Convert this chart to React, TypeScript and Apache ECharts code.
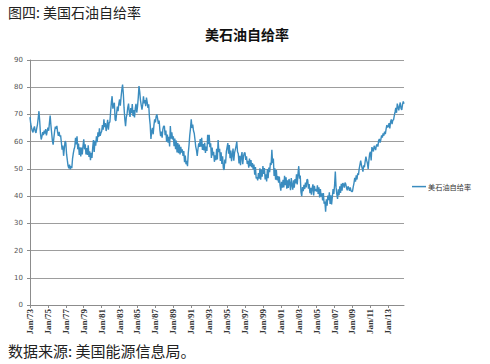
import React, { useEffect, useRef } from "react";
import * as echarts from "echarts";

const headerText = "图四: 美国石油自给率";
const chartTitle = "美石油自给率";
const seriesName = "美石油自给率";
const footerText = "数据来源: 美国能源信息局。";

const startYear = 1973;
const monthNames = ["Jan", "Feb", "Mar", "Apr", "May", "Jun", "Jul", "Aug", "Sep", "Oct", "Nov", "Dec"];

const yTicks = [0, 10, 20, 30, 40, 50, 60, 70, 80, 90];

// monthly self-sufficiency ratio (%), Jan 1973 – Oct 2014, one row per year
const ratio: number[] = [
  69.0, 66.5, 65.2, 64.0, 63.4, 64.8, 65.6, 63.8, 63.2, 64.9, 66.3, 68.7, // 1973
  71.2, 67.5, 63.0, 60.8, 61.9, 63.5, 62.4, 64.1, 63.0, 64.6, 62.3, 63.8, // 1974
  65.2, 64.0, 66.8, 69.6, 66.1, 63.2, 60.4, 58.9, 61.5, 63.9, 65.5, 64.7, // 1975
  65.8, 63.4, 62.1, 63.6, 61.9, 62.3, 59.8, 57.1, 58.6, 54.8, 57.5, 60.2, // 1976
  59.6, 55.4, 53.2, 51.1, 50.2, 51.6, 49.8, 51.0, 50.3, 53.8, 55.7, 57.2, // 1977
  58.1, 61.4, 59.0, 62.0, 57.2, 59.3, 55.1, 57.9, 54.6, 57.8, 55.3, 58.4, // 1978
  60.9, 57.2, 59.0, 55.3, 57.6, 55.1, 58.7, 54.4, 56.5, 53.2, 55.9, 54.0, // 1979
  57.8, 60.6, 56.2, 60.3, 58.5, 62.0, 59.8, 63.4, 61.7, 64.9, 62.1, 63.2, // 1980
  63.8, 66.1, 64.4, 68.2, 65.3, 66.8, 63.9, 65.7, 68.0, 64.4, 66.9, 67.2, // 1981
  71.0, 74.5, 76.7, 72.1, 73.6, 74.3, 68.2, 67.6, 70.4, 72.9, 71.2, 74.0, // 1982
  75.5, 73.2, 76.4, 79.0, 81.0, 77.8, 72.4, 68.3, 65.7, 68.9, 70.2, 72.6, // 1983
  74.0, 70.8, 69.1, 72.3, 70.5, 73.8, 69.4, 71.6, 68.9, 72.2, 73.9, 70.7, // 1984
  72.8, 76.1, 80.4, 78.3, 75.2, 73.4, 71.8, 73.6, 76.7, 74.1, 75.3, 73.0, // 1985
  76.2, 74.5, 72.4, 73.7, 68.9, 66.2, 61.0, 63.8, 65.1, 62.7, 66.0, 68.2, // 1986
  67.1, 69.3, 70.0, 68.4, 66.5, 67.8, 64.2, 62.0, 63.7, 61.5, 64.6, 65.7, // 1987
  65.7, 62.4, 64.1, 60.0, 62.6, 59.6, 61.8, 58.2, 65.7, 61.1, 63.4, 60.8, // 1988
  62.0, 58.3, 61.1, 57.2, 60.4, 56.0, 59.5, 55.8, 58.9, 55.3, 58.1, 56.0, // 1989
  57.2, 54.8, 56.6, 52.5, 54.9, 51.7, 53.0, 51.0, 55.8, 58.6, 62.3, 64.9, // 1990
  68.2, 65.0, 66.3, 64.0, 63.1, 60.8, 58.2, 56.9, 54.8, 57.3, 59.4, 58.1, // 1991
  61.0, 58.2, 61.4, 57.0, 59.1, 56.8, 59.6, 55.9, 58.2, 56.6, 62.5, 59.1, // 1992
  62.5, 58.0, 59.4, 54.0, 57.8, 55.0, 56.3, 52.6, 55.0, 53.2, 57.4, 53.5, // 1993
  60.6, 56.2, 57.4, 52.9, 56.1, 51.8, 54.6, 50.3, 49.6, 53.4, 52.0, 56.3, // 1994
  57.9, 59.5, 55.6, 58.8, 53.9, 56.7, 52.8, 55.1, 57.5, 53.0, 55.9, 57.1, // 1995
  58.4, 60.0, 56.3, 55.6, 52.0, 54.8, 51.4, 54.5, 56.2, 51.7, 54.6, 55.8, // 1996
  56.0, 53.3, 54.6, 51.8, 53.0, 50.4, 53.8, 51.0, 53.2, 50.6, 52.1, 49.8, // 1997
  51.6, 47.9, 50.7, 46.5, 47.0, 45.8, 48.5, 46.4, 50.2, 46.0, 49.8, 47.1, // 1998
  51.0, 48.2, 50.3, 46.1, 48.0, 45.4, 49.9, 46.6, 50.5, 48.8, 52.2, 51.4, // 1999
  57.0, 52.1, 53.8, 47.4, 50.2, 46.0, 49.6, 45.8, 47.4, 44.9, 47.2, 43.8, // 2000
  42.0, 45.3, 43.1, 46.0, 43.2, 47.5, 44.0, 46.9, 42.7, 45.8, 43.0, 46.3, // 2001
  44.7, 42.2, 46.6, 44.0, 42.4, 45.8, 43.1, 46.3, 44.7, 48.0, 44.3, 48.2, // 2002
  51.0, 46.4, 47.6, 41.5, 40.0, 43.3, 41.8, 44.1, 42.6, 45.0, 43.2, 46.1, // 2003
  46.0, 42.7, 44.4, 41.1, 43.0, 40.5, 42.9, 44.3, 40.2, 43.8, 41.9, 42.5, // 2004
  41.7, 44.0, 40.8, 43.2, 39.5, 42.6, 39.8, 41.0, 38.4, 41.1, 37.2, 38.0, // 2005
  34.3, 38.8, 36.5, 40.2, 38.5, 41.4, 37.1, 40.3, 36.9, 39.7, 42.6, 40.8, // 2006
  44.0, 49.0, 43.2, 40.7, 39.0, 42.5, 40.3, 43.6, 41.2, 44.5, 42.0, 44.8, // 2007
  44.3, 43.1, 45.0, 44.4, 43.0, 42.1, 43.6, 43.0, 41.9, 43.2, 42.0, 41.7, // 2008
  41.7, 43.4, 44.8, 46.7, 45.3, 47.6, 46.1, 48.4, 47.8, 50.1, 51.6, 53.0, // 2009
  51.4, 50.2, 49.0, 51.3, 50.6, 52.8, 54.5, 53.1, 52.0, 50.0, 53.2, 55.6, // 2010
  56.3, 53.1, 58.0, 57.2, 56.4, 58.5, 57.8, 56.9, 58.6, 59.0, 58.2, 60.4, // 2011
  61.0, 59.7, 60.8, 62.3, 61.5, 63.0, 62.2, 63.7, 62.8, 64.6, 66.1, 65.3, // 2012
  65.5, 66.8, 64.9, 67.3, 68.2, 66.4, 67.9, 68.0, 69.6, 70.9, 72.4, 70.6, // 2013
  74.0, 72.8, 71.5, 73.1, 74.4, 72.2, 71.7, 73.6, 74.8, 73.9, // 2014
];

const months: string[] = ratio.map((_, i) => {
  const y = startYear + Math.floor(i / 12);
  return `${monthNames[i % 12]}/${String(y % 100).padStart(2, "0")}`;
});

export default function App() {
  const ref = useRef<HTMLDivElement>(null);

  useEffect(() => {
    if (!ref.current) return;
    const chart = echarts.init(ref.current, null, { renderer: "svg" });
    chart.setOption({
      animation: false,
      backgroundColor: "#ffffff",
      title: {
        text: chartTitle,
        left: 242,
        textAlign: "center",
        top: 22,
        textStyle: {
          fontFamily: "Noto Sans CJK SC",
          fontSize: 14,
          fontWeight: "bold",
          color: "#111",
        },
      },
      legend: {
        data: [seriesName],
        orient: "vertical",
        left: 407,
        top: 178,
        icon: "rect",
        itemWidth: 14,
        itemHeight: 1.5,
        itemGap: 4,
        textStyle: {
          fontFamily: "Noto Sans CJK SC",
          fontSize: 7.2,
          color: "#333",
          padding: [0, 0, 0, -3],
        },
      },
      grid: {
        left: 30,
        right: 86,
        top: 60,
        bottom: 59,
        containLabel: false,
      },
      xAxis: {
        type: "category",
        data: months,
        boundaryGap: false,
        axisLine: { show: true, lineStyle: { color: "#8c8c8c", width: 1 } },
        axisTick: {
          show: true,
          interval: 23,
          length: 3,
          lineStyle: { color: "#8c8c8c" },
        },
        axisLabel: {
          interval: 23,
          rotate: 90,
          margin: 4,
          fontFamily: "Liberation Serif",
          fontSize: 9,
          fontWeight: "bold",
          color: "#333",
        },
        splitLine: { show: false },
      },
      yAxis: {
        type: "value",
        min: yTicks[0],
        max: yTicks[yTicks.length - 1],
        interval: 10,
        axisLine: { show: true, lineStyle: { color: "#8c8c8c", width: 1 } },
        axisTick: { show: true, length: 3, lineStyle: { color: "#8c8c8c" } },
        axisLabel: {
          fontFamily: "DejaVu Sans",
          fontSize: 7,
          color: "#555",
          margin: 7,
        },
        splitLine: { show: true, lineStyle: { color: "#9d9d9d", width: 1.2 } },
      },
      series: [
        {
          name: seriesName,
          type: "line",
          data: ratio,
          showSymbol: false,
          symbol: "none",
          lineStyle: { color: "#3a8cbf", width: 1.4 },
          itemStyle: { color: "#3a8cbf" },
        },
      ],
      graphic: [
        {
          type: "text",
          left: 8,
          top: 5,
          style: {
            text: headerText,
            fontFamily: "Noto Sans CJK SC",
            fontSize: 14,
            fill: "#222",
          },
        },
        {
          type: "text",
          left: 8,
          top: 343,
          style: {
            text: footerText,
            fontFamily: "Noto Sans CJK SC",
            fontSize: 15,
            fill: "#222",
          },
        },
      ],
    });
    return () => chart.dispose();
  }, []);

  return (
    <div
      ref={ref}
      style={{ position: "fixed", left: 0, top: 0, width: 490, height: 364 }}
    />
  );
}
